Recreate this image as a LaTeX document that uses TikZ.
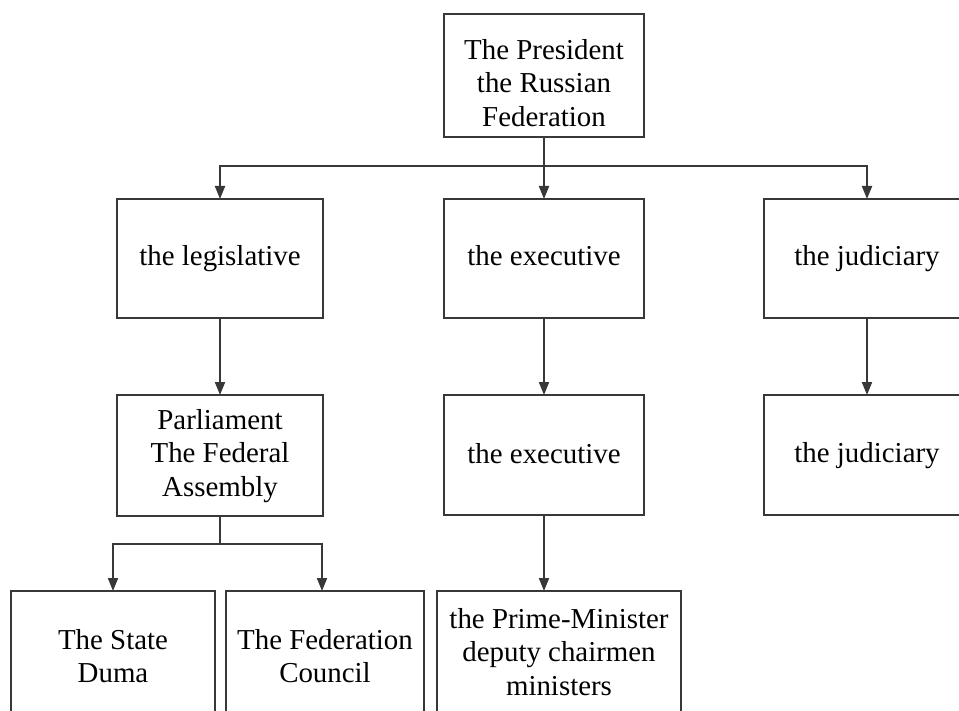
\documentclass[tikz,border=0pt]{standalone}
\usepackage{fontspec}
\setmainfont{Liberation Serif}
\usetikzlibrary{arrows.meta}
\begin{document}
\begin{tikzpicture}[x=1bp,y=-1bp,
  bx/.style={draw=black!78, line width=2bp, inner sep=0pt, outer sep=0pt},
  tx/.style={align=center, inner sep=0pt, font=\fontsize{29}{33.3}\selectfont},
  conn/.style={draw=black!78, line width=2bp},
  arr/.style={conn, -{Triangle[length=13bp, width=10bp]}}]
\useasboundingbox (0,0) rectangle (959,711);
\clip (0,0) rectangle (959,711);
% boxes
\node[bx, minimum width=200bp, minimum height=123bp] (pres) at (544,75.5) {};
\node[tx] (presT) at (544,83) {The President\\the Russian\\Federation};
\node[bx, minimum width=206bp, minimum height=119bp] (leg) at (220,258.5) {};
\node[tx] (legT) at (220,259) {the legislative};
\node[bx, minimum width=200bp, minimum height=119bp] (exe) at (544,258.5) {};
\node[tx] (exeT) at (544,256) {the executive};
\node[bx, minimum width=206bp, minimum height=119bp] (jud) at (867,258.5) {};
\node[tx] (judT) at (867,259) {the judiciary};
\node[bx, minimum width=206bp, minimum height=121bp] (parl) at (220,455.5) {};
\node[tx] (parlT) at (220,456) {Parliament\\The Federal\\Assembly};
\node[bx, minimum width=200bp, minimum height=120bp] (exe2) at (544,455) {};
\node[tx] (exe2T) at (544,454) {the executive};
\node[bx, minimum width=206bp, minimum height=120bp] (jud2) at (867,455) {};
\node[tx] (jud2T) at (867,456) {the judiciary};
\node[bx, minimum width=204bp, minimum height=130bp] (duma) at (113,656) {};
\node[tx] (dumaT) at (113,656) {The State\\Duma};
\node[bx, minimum width=198bp, minimum height=130bp] (fed) at (325,656) {};
\node[tx] (fedT) at (325,656) {The Federation\\Council};
\node[bx, minimum width=244bp, minimum height=130bp] (pm) at (559,656) {};
\node[tx] (pmT) at (559,652) {the Prime-Minister\\deputy chairmen\\ministers};
% connectors
\coordinate (hub) at (544,166);
\coordinate (hub2) at (220,544);
\draw[conn] (pres.south) -- (hub);
\draw[arr] (hub) -| (leg.north);
\draw[arr] (hub) -- (exe.north);
\draw[arr] (hub) -| (jud.north);
\draw[arr] (leg.south) -- (parl.north);
\draw[arr] (exe.south) -- (exe2.north);
\draw[arr] (jud.south) -- (jud2.north);
\draw[conn] (parl.south) -- (hub2);
\draw[arr] (hub2) -| (duma.north);
\draw[arr] (hub2) -| ([xshift=-3bp]fed.north);
\draw[arr] (exe2.south) -- (exe2.south |- pm.north);
\end{tikzpicture}
\end{document}
